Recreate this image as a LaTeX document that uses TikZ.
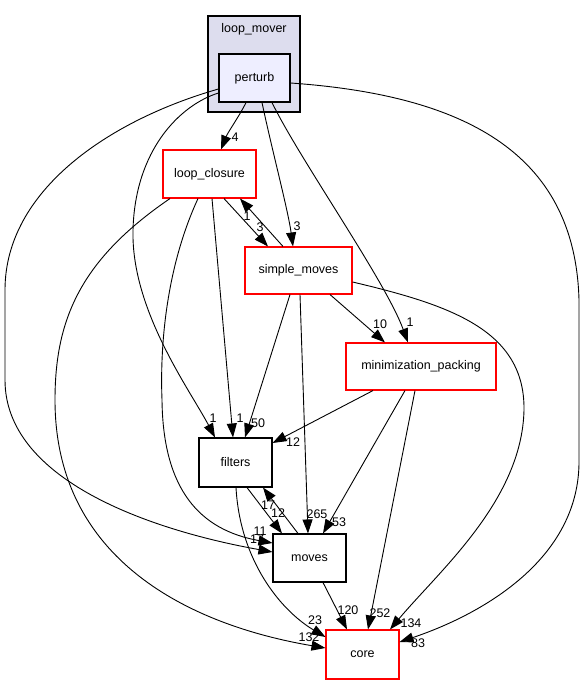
\documentclass[tikz,border=0pt]{standalone}
\usepackage{fontspec}
\setmainfont{Liberation Sans}
\usetikzlibrary{arrows.meta}
\definecolor{clusterfill}{HTML}{DDDDEE}
\definecolor{perturbfill}{HTML}{EEEEFF}
\begin{document}
\begin{tikzpicture}[x=1pt,y=-1pt,
  box/.style={draw=black, line width=1.1pt, fill=white, minimum height=48pt, inner sep=0pt, font=\fontsize{12.5}{14}\selectfont},
  redbox/.style={box, draw=red},
  lbl/.style={inner sep=0pt, font=\fontsize{12.5}{14}\selectfont},
  edge/.style={-{Triangle[length=14pt,width=10pt]}, line width=0.9pt},
]
\useasboundingbox (0,0) rectangle (587,684);
% cluster
\node[draw=black, line width=1.1pt, fill=clusterfill, minimum width=92pt, minimum height=96pt, inner sep=0pt] (cluster) at (254,64) {};
\node[lbl] (clusterlabel) at (254,29) {loop\_mover};
% nodes
\node[box, fill=perturbfill, minimum width=71pt] (perturb) at (254.5,78) {perturb};
\node[redbox, minimum width=93pt] (lc) at (209.5,174) {loop\_closure};
\node[redbox, minimum width=107pt, minimum height=47pt] (sm) at (298.5,270.5) {simple\_moves};
\node[redbox, minimum width=150pt, minimum height=47pt] (mp) at (421,366.5) {minimization\_packing};
\node[box, minimum width=73pt, minimum height=49pt] (filters) at (235.5,462.5) {filters};
\node[box, minimum width=73pt] (moves) at (309.5,558) {moves};
\node[redbox, minimum width=73pt, minimum height=49pt] (core) at (362.5,654.5) {core};

% edges from perturb
\draw[edge] ([xshift=-8.5pt]perturb.south) .. controls (240,115) and (228,132) .. ([xshift=11.5pt]lc.north);
\draw[edge] ([xshift=7.5pt]perturb.south) .. controls (272,150) and (288,210) .. ([xshift=-5.5pt]sm.north);
\draw[edge] ([xshift=17.5pt]perturb.south) .. controls (300,160) and (385,280) .. ([xshift=-13pt]mp.north);
\draw[edge] ([yshift=-15pt]perturb.west) .. controls (180,105) and (135,150) .. (133,230) .. controls (131,310) and (190,390) .. ([xshift=-20.5pt]filters.north);
\draw[edge] ([yshift=-11pt]perturb.west) .. controls (110,120) and (5,190) .. (5,290) -- (5,380) .. controls (5,480) and (150,530) .. ([yshift=6pt]moves.west);
\draw[edge] ([yshift=-5pt]perturb.east) .. controls (460,95) and (575,150) .. (579,300) -- (579,460) .. controls (580,560) and (480,615) .. ([yshift=12.5pt]core.east);

% edges from loop_closure
\draw[edge] ([xshift=14.5pt]lc.south) -- ([xshift=-30.5pt]sm.north);
\draw[edge] ([xshift=2.5pt]lc.south) -- ([xshift=-2.5pt]filters.north);
\draw[edge] ([xshift=-11.5pt]lc.south) .. controls (165,270) and (160,350) .. (162,400) .. controls (163,490) and (200,530) .. ([yshift=15pt]moves.west);
\draw[edge] ([xshift=-39.5pt]lc.south) .. controls (80,260) and (55,320) .. (55,400) .. controls (55,560) and (190,625) .. ([yshift=6.5pt]core.west);

% edges from simple_moves
\draw[edge] ([xshift=-15.5pt]sm.north) -- ([xshift=30.5pt]lc.south);
\draw[edge] ([xshift=-8.5pt]sm.south) -- ([xshift=9.5pt]filters.north);
\draw[edge] ([xshift=1.5pt]sm.south) -- ([xshift=-1.5pt]moves.north);
\draw[edge] ([xshift=31.5pt]sm.south) -- ([xshift=-36pt]mp.north);
\draw[edge] ([yshift=-11.5pt]sm.east) .. controls (450,305) and (525,330) .. (524,410) .. controls (522,500) and (440,570) .. ([xshift=27.5pt]core.north);

% edges from minimization_packing
\draw[edge] ([xshift=-48pt]mp.south) -- ([yshift=19.5pt]filters.east);
\draw[edge] ([xshift=-16pt]mp.south) -- ([xshift=13.5pt]moves.north);
\draw[edge] ([xshift=-6pt]mp.south) -- ([xshift=5.5pt]core.north);

% filters / moves / core
\draw[edge] ([xshift=11.5pt]filters.south) -- ([xshift=-27.5pt]moves.north);
\draw[edge] ([xshift=-11.5pt]moves.north) -- ([xshift=27.5pt]filters.south);
\draw[edge] ([xshift=0.5pt]filters.south) .. controls (240,560) and (280,610) .. ([yshift=17.5pt]core.west);
\draw[edge] ([xshift=13.5pt]moves.south) -- ([xshift=-15.5pt]core.north);

% edge labels
\node[lbl] (l1) at (235,137) {4};
\node[lbl] (l2) at (297,226) {3};
\node[lbl] (l3) at (410,322) {1};
\node[lbl] (l4) at (213,418) {1};
\node[lbl] (l5) at (257,539) {17};
\node[lbl] (l6) at (418,643) {83};
\node[lbl] (l7) at (260,227) {3};
\node[lbl] (l8) at (247,216) {1};
\node[lbl] (l9) at (240,418) {1};
\node[lbl] (l10) at (260,531) {11};
\node[lbl] (l11) at (309,637) {132};
\node[lbl] (l12) at (258,423) {50};
\node[lbl] (l13) at (317,514) {265};
\node[lbl] (l14) at (380,324) {10};
\node[lbl] (l15) at (411,623) {134};
\node[lbl] (l16) at (293,442) {12};
\node[lbl] (l17) at (339,522) {53};
\node[lbl] (l18) at (380,613) {252};
\node[lbl] (l19) at (278,513) {12};
\node[lbl] (l20) at (268,505) {17};
\node[lbl] (l21) at (348,610) {120};
\node[lbl] (l22) at (315,620) {23};
\end{tikzpicture}
\end{document}
